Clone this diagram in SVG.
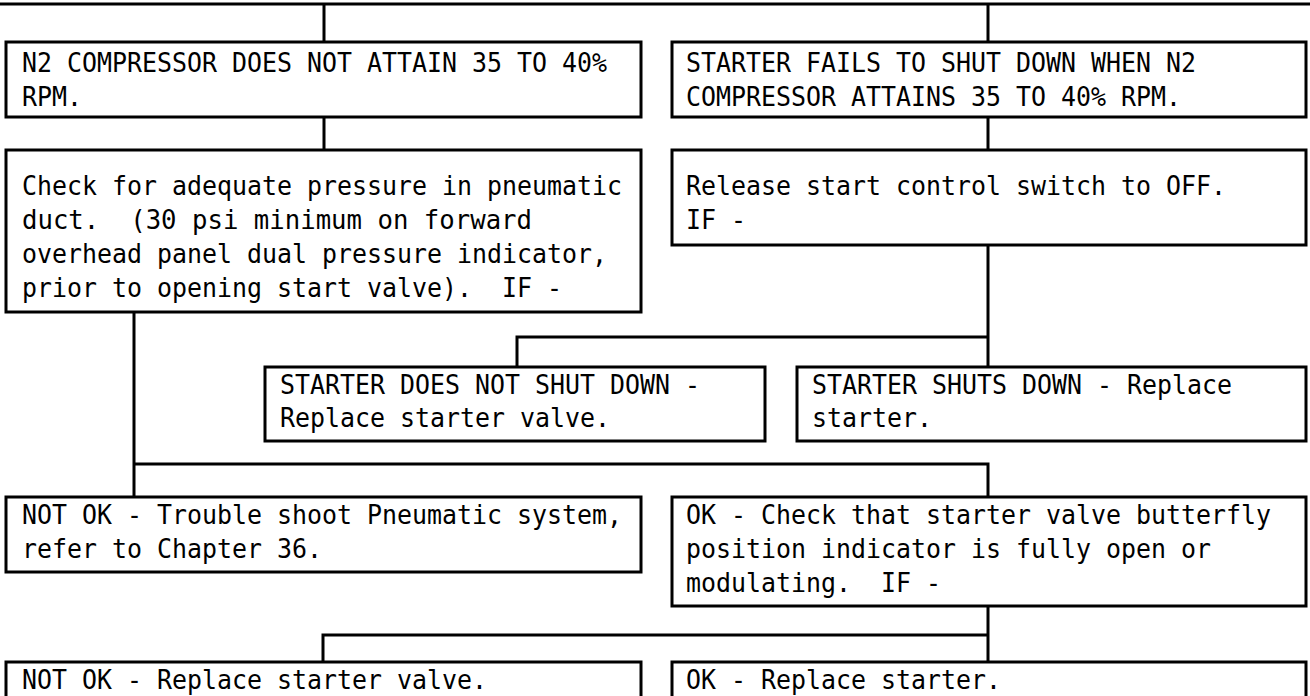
<svg xmlns="http://www.w3.org/2000/svg" width="1310" height="696" viewBox="0 0 1310 696" xml:space="preserve">
<style>
.box{fill:#fff;stroke:#000;stroke-width:3}
.ln{fill:none;stroke:#000;stroke-width:3}
text{font-family:"DejaVu Sans Mono","Liberation Mono",monospace;font-size:26px;fill:#000;white-space:pre}
</style>
<rect width="1310" height="696" fill="#fff"/>
<g id="connectors">
<path class="ln" d="M0 4H1310"/>
<path class="ln" d="M324 4V42M988 4V42"/>
<path class="ln" d="M324 117V150M988 117V150"/>
<path class="ln" d="M988 245V367M517 367V337H988"/>
<path class="ln" d="M134 312V497M134 464H988V497"/>
<path class="ln" d="M988 606V662M323 662V635H988"/>
</g>
<g id="n1"><rect class="box" x="6" y="42" width="635" height="75"/>
<text x="22" y="72" textLength="585" lengthAdjust="spacingAndGlyphs">N2 COMPRESSOR DOES NOT ATTAIN 35 TO 40%</text><text x="22" y="106" textLength="60" lengthAdjust="spacingAndGlyphs">RPM.</text></g>
<g id="n2"><rect class="box" x="672" y="42" width="634" height="75"/>
<text x="686" y="72" textLength="510" lengthAdjust="spacingAndGlyphs">STARTER FAILS TO SHUT DOWN WHEN N2</text><text x="686" y="106" textLength="495" lengthAdjust="spacingAndGlyphs">COMPRESSOR ATTAINS 35 TO 40% RPM.</text></g>
<g id="n3"><rect class="box" x="6" y="150" width="635" height="162"/>
<text x="22" y="195" textLength="600" lengthAdjust="spacingAndGlyphs">Check for adequate pressure in pneumatic</text>
<text x="22" y="229" textLength="510" lengthAdjust="spacingAndGlyphs">duct.  (30 psi minimum on forward</text>
<text x="22" y="263" textLength="585" lengthAdjust="spacingAndGlyphs">overhead panel dual pressure indicator,</text>
<text x="22" y="297" textLength="540" lengthAdjust="spacingAndGlyphs">prior to opening start valve).  IF -</text></g>
<g id="n4"><rect class="box" x="672" y="150" width="634" height="95"/>
<text x="686" y="195" textLength="540" lengthAdjust="spacingAndGlyphs">Release start control switch to OFF.</text><text x="686" y="229" textLength="60" lengthAdjust="spacingAndGlyphs">IF -</text></g>
<g id="n5"><rect class="box" x="265" y="367" width="500" height="74"/>
<text x="280" y="394" textLength="420" lengthAdjust="spacingAndGlyphs">STARTER DOES NOT SHUT DOWN -</text><text x="280" y="427" textLength="330" lengthAdjust="spacingAndGlyphs">Replace starter valve.</text></g>
<g id="n6"><rect class="box" x="797" y="367" width="509" height="74"/>
<text x="812" y="394" textLength="420" lengthAdjust="spacingAndGlyphs">STARTER SHUTS DOWN - Replace</text><text x="812" y="427" textLength="120" lengthAdjust="spacingAndGlyphs">starter.</text></g>
<g id="n7"><rect class="box" x="6" y="497" width="635" height="75"/>
<text x="22" y="524" textLength="600" lengthAdjust="spacingAndGlyphs">NOT OK - Trouble shoot Pneumatic system,</text><text x="22" y="558" textLength="300" lengthAdjust="spacingAndGlyphs">refer to Chapter 36.</text></g>
<g id="n8"><rect class="box" x="672" y="497" width="634" height="109"/>
<text x="686" y="524" textLength="585" lengthAdjust="spacingAndGlyphs">OK - Check that starter valve butterfly</text><text x="686" y="558" textLength="525" lengthAdjust="spacingAndGlyphs">position indicator is fully open or</text><text x="686" y="592" textLength="255" lengthAdjust="spacingAndGlyphs">modulating.  IF -</text></g>
<g id="n9"><rect class="box" x="6" y="662" width="635" height="50"/>
<text x="22" y="689" textLength="465" lengthAdjust="spacingAndGlyphs">NOT OK - Replace starter valve.</text></g>
<g id="n10"><rect class="box" x="672" y="662" width="634" height="50"/>
<text x="686" y="689" textLength="315" lengthAdjust="spacingAndGlyphs">OK - Replace starter.</text></g>
</svg>
